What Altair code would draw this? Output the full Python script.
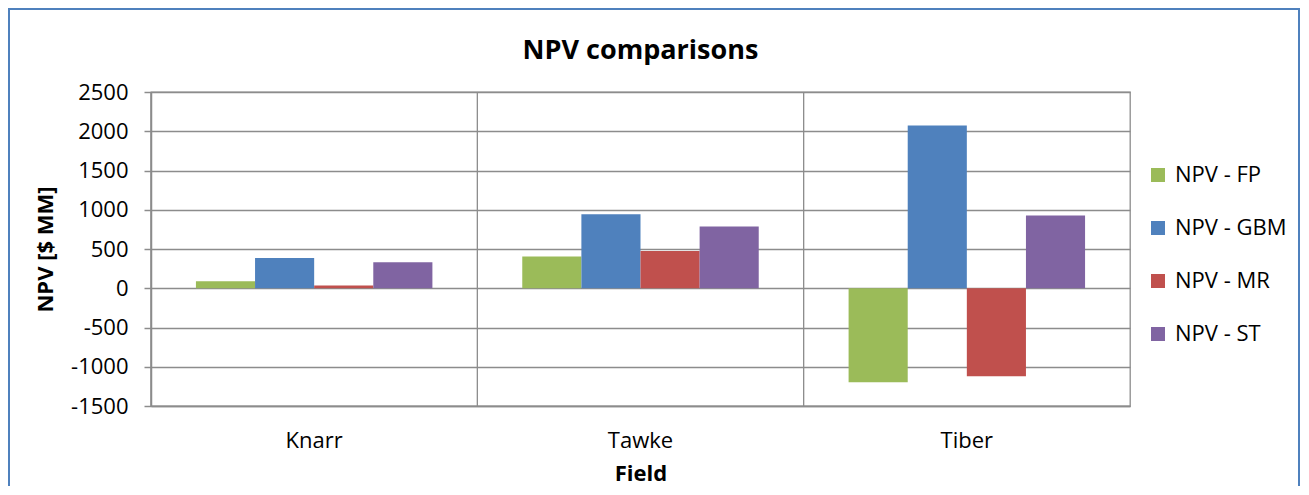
import altair as alt
import pandas as pd

fields = ["Knarr", "Tawke", "Tiber"]
series = ["NPV - FP", "NPV - GBM", "NPV - MR", "NPV - ST"]
npv_fp = [90, 403, -1197]
npv_gbm = [386, 943, 2073]
npv_mr = [35, 475, -1121]
npv_st = [330, 786, 926]
colors = ["#9BBB59", "#4F81BD", "#C0504D", "#8064A2"]
y_ticks = [-1500, -1000, -500, 0, 500, 1000, 1500, 2000, 2500]

rows = []
for s, vals in zip(series, [npv_fp, npv_gbm, npv_mr, npv_st]):
    for f, v in zip(fields, vals):
        rows.append({"Field": f, "Series": s, "NPV": v})
df = pd.DataFrame(rows)
sep = pd.DataFrame({"Field": fields})

FONT = "Open Sans"
GRID = "#8c8c8c"
W, H = 979, 314

xscale = alt.Scale(domain=fields, paddingInner=0, paddingOuter=0)
xaxis = alt.Axis(
    title="Field",
    labelAngle=0,
    ticks=False,
    labelPadding=24,
    labelFontSize=22,
    titleFontSize=22,
    titleFontWeight="bold",
    titlePadding=12,
    domainColor=GRID,
    domainWidth=1.5,
)

rules = alt.Chart(sep).mark_rule(color=GRID, strokeWidth=1.3).encode(
    x=alt.X("Field:N", scale=xscale, sort=fields, bandPosition=0, axis=xaxis)
)

bars = alt.Chart(df).mark_bar().encode(
    x=alt.X("Field:N", scale=xscale, sort=fields, axis=xaxis),
    xOffset=alt.XOffset(
        "Series:N", sort=series, scale=alt.Scale(paddingInner=0, paddingOuter=0.76)
    ),
    y=alt.Y(
        "NPV:Q",
        scale=alt.Scale(domain=[-1500, 2500], nice=False),
        axis=alt.Axis(
            values=y_ticks,
            labelExpr="datum.value + ''",
            title="NPV [$ MM]",
            labelFontSize=22,
            labelPadding=16,
            tickSize=7,
            tickColor=GRID,
            tickWidth=1.5,
            domainColor=GRID,
            domainWidth=1.5,
            gridColor=GRID,
            gridWidth=1.3,
            titleFontSize=22,
            titleFontWeight="bold",
            titlePadding=13,
        ),
    ),
    color=alt.Color(
        "Series:N",
        sort=series,
        scale=alt.Scale(domain=series, range=colors),
        legend=alt.Legend(
            title=None,
            orient="none",
            legendX=996,
            legendY=72,
            symbolType="square",
            symbolSize=196,
            symbolStrokeWidth=0,
            labelFontSize=22,
            rowPadding=31,
            labelOffset=6,
        ),
    ),
)

border = alt.Chart(alt.Data(values=[{"a": 1}])).mark_rect(
    filled=False, stroke="#4F81BD", strokeWidth=2, clip=False
).encode(
    x=alt.value(-142), x2=alt.value(W + 169), y=alt.value(-83), y2=alt.value(H + 120)
)

chart = (
    alt.layer(rules, bars, border)
    .properties(
        width=W,
        height=H,
        title=alt.TitleParams(
            "NPV comparisons",
            fontSize=27,
            fontWeight="bold",
            anchor="middle",
            baseline="alphabetic",
            offset=-78,
        ),
        padding={"left": 143, "top": 84, "right": 171, "bottom": 80},
        autosize=alt.AutoSizeParams(type="none"),
    )
    .configure(font=FONT)
    .configure_view(stroke=GRID, strokeWidth=1.3)
    .configure_axis(labelColor="black", titleColor="black", labelFont=FONT, titleFont=FONT)
    .configure_legend(labelColor="black", labelFont=FONT)
    .configure_title(color="black", font=FONT)
)

chart.save("out.html", embed_options={"renderer": "svg", "actions": False})
